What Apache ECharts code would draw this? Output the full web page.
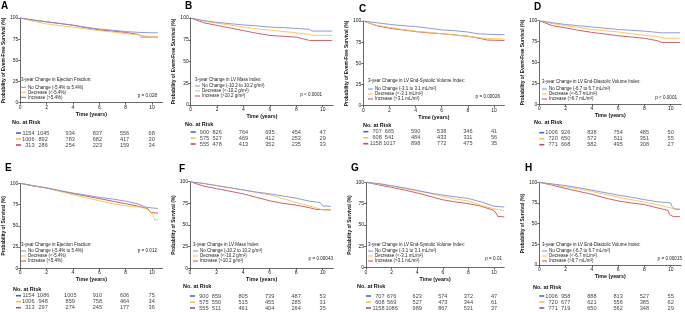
<!DOCTYPE html>
<html>
<head>
<meta charset="utf-8">
<script src="https://cdn.jsdelivr.net/npm/echarts@6/dist/echarts.min.js"></script>
<style>
  html, body { margin: 0; padding: 0; background: #fff; }
  #chart { width: 685px; height: 312px; }
</style>
</head>
<body>
<div id="chart"></div>
<script>
// years at which the number at risk is reported
const riskTimes = [0, 2, 4, 6, 8, 10];

// legend texts
const efLabels = ['No Change (-5.4% to 5.4%)', 'Decrease (<-5.4%)', 'Increase (>5.4%)'];
const massLabels = ['No Change (-10.2 to 10.2 g/m²)', 'Decrease (<-10.2 g/m²)', 'Increase (>10.2 g/m²)'];
const esviLabels = ['No Change (-3.1 to 3.1 mL/m²)', 'Decrease (<-3.1 mL/m²)', 'Increase (>3.1 mL/m²)'];
const edviLabels = ['No Change (-6.7 to 6.7 mL/m²)', 'Decrease (<-6.7 mL/m²)', 'Increase (>6.7 mL/m²)'];
const pValues = ['p = 0.028', 'p < 0.0001', 'p = 0.00026', 'p < 0.0001', 'p = 0.012', 'p = 0.00043', 'p = 0.01', 'p = 0.00015'];

// A - event-free survival, ejection fraction  [years, %]
const efsEfNoChange = [[0,100],[1,97.5],[2,95.5],[3,93.5],[4,91.5],[5,89],[6,87],[7,85.5],[8,84],[9,83],[10,82.5],[10.45,82.5]];
const efsEfDecrease = [[0,100],[1,96],[2,93],[3,91],[4,89],[5,87],[6,85],[7,83.5],[8,81.5],[9,80],[10,77.5],[10.45,77.5]];
const efsEfIncrease = [[0,100],[1,97.5],[2,95.5],[3,93.5],[4,91.5],[5,88.5],[6,86],[7,84.5],[8,83],[9,80.5],[9.2,77.5],[10.45,77.5]];
// B - event-free survival, LV mass index
const efsMassNoChange = [[0,100],[1,97],[2,95],[3,93.5],[4,92],[5,91],[6,89.5],[7,89],[8,88],[9,87],[9.2,85],[10.7,85]];
const efsMassDecrease = [[0,100],[1,96.5],[2,94],[3,92],[4,89.5],[5,87.5],[6,86],[7,84.5],[8,83],[9,81],[9.3,80],[10.7,80]];
const efsMassIncrease = [[0,100],[1,94.5],[2,91.5],[3,88.5],[4,85.5],[5,82.5],[6,80],[7,79],[8,78],[8.8,75],[9,74.2],[10.7,74.2]];
// C - event-free survival, LV end-systolic volume index
const efsEsviNoChange = [[0,100],[1,98],[2,96],[3,94.5],[4,93.5],[5,91.5],[6,89.5],[7,88.5],[8,87],[8.7,85],[10,84],[10.8,84]];
const efsEsviDecrease = [[0,100],[1,95],[2,92.5],[3,90],[4,88],[5,86.5],[6,85],[7,83.5],[8,82],[9,80],[10,79],[10.8,78.8]];
const efsEsviIncrease = [[0,100],[1,94.5],[2,91.5],[3,89.5],[4,87.5],[5,86],[6,85],[7,83.5],[8,82],[9,79.2],[9.5,77.5],[10.8,77]];
// D - event-free survival, LV end-diastolic volume index
const efsEdviNoChange = [[0,100],[1,97.5],[2,95.5],[3,94],[4,92.5],[5,91],[6,89.5],[7,88.5],[8,87.5],[9,86],[9.3,85.5],[10.7,85.5]];
const efsEdviDecrease = [[0,100],[1,96.5],[2,94],[3,92],[4,89.5],[5,88],[6,86.5],[7,84.5],[8,82.5],[9,81],[9.5,79],[10.7,79]];
const efsEdviIncrease = [[0,100],[1,94],[2,91.5],[3,88.5],[4,86],[5,84],[6,82],[7,80.5],[8,79],[9,76],[9.3,74],[10.7,74]];
// E - survival, ejection fraction
const osEfNoChange = [[0,100],[1,97],[2,94.5],[3,91.5],[4,88.5],[5,86],[6,83.5],[7,81.5],[8,79],[9,75.5],[9.5,72],[10,71],[10.45,70.5]];
const osEfDecrease = [[0,100],[1,97],[2,94.5],[3,90.5],[4,86.5],[5,83],[6,79.5],[7,76],[8,73.5],[9,72],[9.6,70],[9.9,66],[10.1,62],[10.2,57],[10.45,57]];
const osEfIncrease = [[0,100],[1,97],[2,94.5],[3,91],[4,88],[5,85],[6,82],[7,79],[8,76],[9,73],[9.7,70],[9.9,65.5],[10.45,65]];
// F - survival, LV mass index
const osMassNoChange = [[0,100],[1,98],[2,95.5],[3,93],[4,90.5],[5,88],[6,86],[7,83.5],[8,81],[9,77.5],[9.8,76],[10,72],[10.6,71.5]];
const osMassDecrease = [[0,100],[1,98],[2,95.5],[3,93],[4,90.5],[5,87.5],[6,85],[7,80.5],[8,76],[9,72],[10,67.5],[10.6,67]];
const osMassIncrease = [[0,100],[1,95],[2,92],[3,89],[4,86],[5,82],[6,78],[7,75],[8,73],[9,70],[9.5,68],[10.6,67.5]];
// G - survival, LV end-systolic volume index
const osEsviNoChange = [[0,100],[1,98.5],[2,96],[3,93.5],[4,90.5],[5,87.5],[6,85],[7,83],[8,81],[9,77],[10,72],[10.8,71]];
const osEsviDecrease = [[0,100],[1,98],[2,95.5],[3,92.5],[4,90],[5,87],[6,83.5],[7,80.5],[8,78],[9,73],[10,69],[10.8,67]];
const osEsviIncrease = [[0,100],[1,97],[2,94],[3,91],[4,87.5],[5,83.5],[6,79.5],[7,77],[8,75],[9,72],[10,67],[10.2,63],[10.3,60],[10.8,59.5]];
// H - survival, LV end-diastolic volume index
const osEdviNoChange = [[0,100],[1,98],[2,96],[3,93.5],[4,90.5],[5,87.5],[6,84.5],[7,82],[8,79],[9,76.5],[10,75],[10.1,71],[10.3,67.5],[10.7,67.5]];
const osEdviDecrease = [[0,100],[1,97.5],[2,94.5],[3,92],[4,89],[5,85.5],[6,82],[7,79],[8,76],[9,73],[10,69],[10.4,67.5],[10.7,67.5]];
const osEdviIncrease = [[0,100],[1,96.5],[2,92.5],[3,89],[4,85.5],[5,81],[6,77.5],[7,75],[8,73],[9,69],[9.8,66],[9.9,61],[10.2,58.5],[10.7,58.5]];

// numbers at risk (rows: no change, decrease, increase)
const riskA = [[1154,1045,934,837,556,68],[1006,892,783,682,417,30],[313,286,254,223,159,34]];
const riskB = [[900,826,764,695,454,47],[575,527,469,412,253,29],[555,478,413,352,235,33]];
const riskC = [[707,665,590,538,346,41],[608,541,484,433,311,56],[1158,1017,898,772,475,35]];
const riskD = [[1006,926,838,754,485,50],[720,650,572,511,351,55],[771,668,582,495,308,27]];
const riskE = [[1154,1086,1005,910,606,75],[1006,948,859,758,464,34],[313,297,274,245,177,36]];
const riskF = [[900,859,805,739,487,53],[575,550,515,455,285,31],[555,511,461,404,264,35]];
const riskG = [[707,676,623,574,372,47],[608,569,527,473,344,61],[1158,1086,989,867,531,37]];
const riskH = [[1006,958,888,813,527,55],[720,677,621,556,385,62],[771,719,650,562,348,29]];

const font = '"Liberation Sans", Arial, sans-serif';
const lineColors = ['#7f8fd6', '#f6c352', '#c84f5a'];
const dashColors = ['#2d3c9c', '#f2b321', '#a3252d'];
const efsName = 'Probability of Event-Free Survival (%)';
const osName = 'Probability of Survival (%)';

const panels = [
  { letter: 'A', curves: [efsEfNoChange, efsEfDecrease, efsEfIncrease], risk: riskA, labels: efLabels, heading: '3-year Change in Ejection Fraction:', yName: efsName,
    left: 16, top: 18, ppy: 13.57, height: 84.7, riskTop: 130, letterAt: [1, 1], legendAt: [21, 77.5, 84.8], pAt: [157, 93], noRiskAt: [12, 119] },
  { letter: 'B', curves: [efsMassNoChange, efsMassDecrease, efsMassIncrease], risk: riskB, labels: massLabels, heading: '3-year Change in LV Mass Index:', yName: efsName,
    left: 190.7, top: 18, ppy: 13.2, height: 87, riskTop: 129, letterAt: [185, 1], legendAt: [195, 77.5, 83.5], pAt: [322, 92], noRiskAt: [185, 121] },
  { letter: 'C', curves: [efsEsviNoChange, efsEsviDecrease, efsEsviIncrease], risk: riskC, labels: esviLabels, heading: '3-year Change in LV End-Systolic Volume Index:', yName: efsName,
    left: 363.3, top: 21, ppy: 13.07, height: 84.7, riskTop: 128.7, letterAt: [359, 4], legendAt: [368, 78.5, 86.5], pAt: [500, 94], noRiskAt: [363, 122] },
  { letter: 'D', curves: [efsEdviNoChange, efsEdviDecrease, efsEdviIncrease], risk: riskD, labels: edviLabels, heading: '3-year Change in LV End-Diastolic Volume Index:', yName: efsName,
    left: 539.3, top: 20.7, ppy: 13.14, height: 83.6, riskTop: 129.7, letterAt: [534, 2], legendAt: [542, 79.5, 86.5], pAt: [677, 95], noRiskAt: [534, 119] },
  { letter: 'E', curves: [osEfNoChange, osEfDecrease, osEfIncrease], risk: riskE, labels: efLabels, heading: '3-year Change in Ejection Fraction:', yName: osName,
    left: 16, top: 183.3, ppy: 13.57, height: 85, riskTop: 292.7, letterAt: [5, 163], legendAt: [21, 242.5, 248.5], pAt: [157, 248], noRiskAt: [13, 286] },
  { letter: 'F', curves: [osMassNoChange, osMassDecrease, osMassIncrease], risk: riskF, labels: massLabels, heading: '3-year Change in LV Mass Index:', yName: osName,
    left: 190, top: 181.7, ppy: 13.27, height: 86.6, riskTop: 293, letterAt: [179, 164], legendAt: [193, 242.5, 248.5], pAt: [333, 256], noRiskAt: [183, 283] },
  { letter: 'G', curves: [osEsviNoChange, osEsviDecrease, osEsviIncrease], risk: riskG, labels: esviLabels, heading: '3-year Change in LV End-Systolic Volume Index:', yName: osName,
    left: 366, top: 182.3, ppy: 12.8, height: 85.4, riskTop: 293, letterAt: [351, 163], legendAt: [368, 242.5, 248.5], pAt: [502, 256], noRiskAt: [357, 283] },
  { letter: 'H', curves: [osEdviNoChange, osEdviDecrease, osEdviIncrease], risk: riskH, labels: edviLabels, heading: '3-year Change in LV End-Diastolic Volume Index:', yName: osName,
    left: 539.3, top: 182.3, ppy: 13.14, height: 82.7, riskTop: 293, letterAt: [525, 163], legendAt: [542, 242.5, 248.5], pAt: [682, 256], noRiskAt: [533, 284] }
];

const xMax = 10.8;
const grid = [], xAxis = [], yAxis = [], series = [], title = [], legend = [];

panels.forEach((p, i) => {
  const width = xMax * p.ppy;
  const plotIdx = i * 2;
  const riskIdx = i * 2 + 1;

  grid.push({ left: p.left, top: p.top, width: width, height: p.height });
  grid.push({ left: p.left, top: p.riskTop, width: width, height: 18 });

  xAxis.push({
    gridIndex: plotIdx, type: 'value', min: 0, max: xMax, interval: 2,
    axisLine: { lineStyle: { color: '#444', width: 0.8 } },
    axisTick: { length: 2, lineStyle: { color: '#444', width: 0.8 } },
    axisLabel: { fontSize: 5, margin: 2, color: '#222', fontFamily: font, showMaxLabel: false },
    splitLine: { show: false },
    name: 'Time (years)', nameLocation: 'middle', nameGap: 9,
    nameTextStyle: { fontSize: 5.3, fontWeight: 'bold', color: '#111', fontFamily: font }
  });
  xAxis.push({ gridIndex: riskIdx, type: 'value', min: 0, max: xMax, show: false });

  yAxis.push({
    gridIndex: plotIdx, type: 'value', min: 0, max: 100, interval: 25,
    axisLine: { show: true, lineStyle: { color: '#444', width: 0.8 } },
    axisTick: { show: true, length: 2, lineStyle: { color: '#444', width: 0.8 } },
    axisLabel: { fontSize: 5, margin: 2, color: '#222', fontFamily: font },
    splitLine: { show: false },
    name: p.yName, nameLocation: 'middle', nameGap: 9, nameRotate: 90,
    nameTextStyle: { fontSize: 4.8, fontWeight: 'bold', color: '#111', fontFamily: font }
  });
  yAxis.push({ gridIndex: riskIdx, type: 'value', min: -0.5, max: 2.5, inverse: true, show: false });

  p.curves.forEach((c, k) => {
    series.push({
      type: 'line', name: p.labels[k], xAxisIndex: plotIdx, yAxisIndex: plotIdx,
      data: c, showSymbol: false, symbol: 'none', color: lineColors[k],
      lineStyle: { width: 0.9, color: lineColors[k] }, z: 3 - k
    });
  });

  p.risk.forEach((row, r) => {
    series.push({
      type: 'scatter', xAxisIndex: riskIdx, yAxisIndex: riskIdx, silent: true,
      data: row.map((n, j) => j === 0
        ? { value: [riskTimes[j], r, n], symbol: 'rect', symbolSize: [5, 1.6], symbolOffset: [2.5, 0],
            itemStyle: { color: dashColors[r] }, label: { align: 'right', offset: [16, 0] } }
        : { value: [riskTimes[j], r, n], symbolSize: 1, itemStyle: { color: 'transparent' } }),
      label: { show: true, position: 'inside', formatter: (d) => d.value[2], fontSize: 5.6, color: '#111', fontFamily: font }
    });
  });

  title.push({ text: p.letter, left: p.letterAt[0], top: p.letterAt[1], padding: 0,
    textStyle: { fontSize: 10, fontWeight: 'bold', color: '#000', fontFamily: font } });
  title.push({ text: p.heading, left: p.legendAt[0], top: p.legendAt[1], padding: 0,
    textStyle: { fontSize: 4.5, fontWeight: 'normal', color: '#222', fontFamily: font } });
  title.push({ text: pValues[i], right: 685 - p.pAt[0], top: p.pAt[1], padding: 0,
    textStyle: { fontSize: 4.6, fontWeight: 'normal', color: '#222', fontFamily: font } });
  title.push({ text: 'No. at Risk', left: p.noRiskAt[0], top: p.noRiskAt[1], padding: 0,
    textStyle: { fontSize: 5.5, fontWeight: 'bold', color: '#111', fontFamily: font } });

  legend.push({
    data: p.labels, left: p.legendAt[0], top: p.legendAt[2], orient: 'vertical',
    icon: 'rect', itemWidth: 5, itemHeight: 1, itemGap: 0, padding: 0, selectedMode: false,
    textStyle: { fontSize: 4.5, lineHeight: 5, color: '#222', fontFamily: font, padding: [0, 0, 0, -3] }
  });
});

const chart = echarts.init(document.getElementById('chart'));
chart.setOption({ animation: false, grid, xAxis, yAxis, series, title, legend });
</script>
</body>
</html>
